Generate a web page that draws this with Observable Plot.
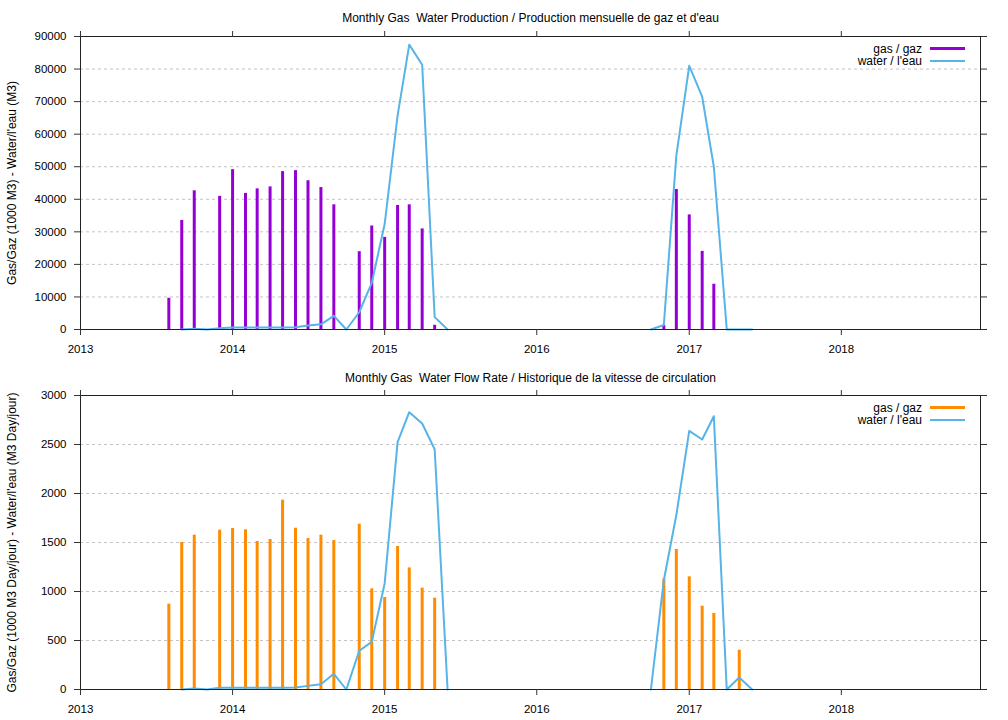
<!DOCTYPE html>
<html>
<head>
<meta charset="utf-8">
<script src="https://cdn.jsdelivr.net/npm/d3@7"></script>
<script src="https://cdn.jsdelivr.net/npm/@observablehq/plot@0.6"></script>
<style>
  body { margin: 0; background: #fff; }
  #chart svg { display: block; }
  text { white-space: pre; }
</style>
</head>
<body>
<div id="chart"></div>
<script>
// ---- Data ----
const gasMonths = ["2013-08","2013-09","2013-10","2013-12",
  "2014-01","2014-02","2014-03","2014-04","2014-05","2014-06","2014-07","2014-08","2014-09","2014-11","2014-12",
  "2015-01","2015-02","2015-03","2015-04","2015-05",
  "2016-11","2016-12","2017-01","2017-02","2017-03","2017-05"];
// monthly gas production (1000 m3)
const gasProduction = [9600,33500,42600,40900,
  49100,41800,43200,43800,48500,48800,45700,43600,38300,23900,31800,
  28300,38100,38300,30900,1300,
  1200,43000,35200,24000,13900,null];
// monthly gas flow rate (1000 m3/day)
const gasRate = [871,1500,1575,1626,
  1643,1629,1510,1531,1932,1646,1541,1575,1520,1687,1027,
  939,1459,1241,1034,932,
  1126,1429,1150,850,776,401];

const waterMonths = ["2013-09","2013-10","2013-11","2013-12",
  "2014-01","2014-02","2014-03","2014-04","2014-05","2014-06","2014-07","2014-08","2014-09","2014-10","2014-11","2014-12",
  "2015-01","2015-02","2015-03","2015-04","2015-05","2015-06",
  "2016-10","2016-11","2016-12","2017-01","2017-02","2017-03","2017-04","2017-05","2017-06"];
// monthly water production (m3)
const waterProduction = [0,200,0,400,
  600,600,600,600,650,700,1200,1600,4200,0,5300,14300,
  32400,65700,87500,81300,3800,0,
  0,1400,53400,81000,71500,50000,0,0,0];
// monthly water flow rate (m3/day)
const waterRate = [0,10,0,17,
  17,17,17,17,18,20,37,54,160,0,395,486,
  1082,2524,2830,2714,2452,0,
  0,1115,1780,2639,2551,2789,0,122,0];

const yearTicks = ["2013","2014","2015","2016","2017","2018"];
const prodTicks = [0,10000,20000,30000,40000,50000,60000,70000,80000,90000];
const rateTicks = [0,500,1000,1500,2000,2500,3000];

const titles = [
  "Monthly Gas  Water Production / Production mensuelle de gaz et d'eau",
  "Monthly Gas  Water Flow Rate / Historique de la vitesse de circulation"
];
const yLabels = [
  "Gas/Gaz (1000 M3) - Water/l'eau (M3)",
  "Gas/Gaz (1000 M3 Day/jour) - Water/l'eau (M3 Day/jour)"
];
const legendLabels = ["gas / gaz", "water / l'eau"];

// ---- Build ----
const parseMonth = d3.utcParse("%Y-%m");
const parseYear = d3.utcParse("%Y");
const WATER = "#56B4E9";
const FONT = "'Liberation Sans', Arial, Helvetica, sans-serif";

function legendMark(gasColor) {
  return (index, scales, values, dimensions) => {
    const {width, marginRight, marginTop} = dimensions;
    const right = width - marginRight;
    const g = d3.create("svg:g")
      .attr("font-family", FONT).attr("font-size", 12);
    const rows = [
      {label: legendLabels[0], color: gasColor, w: 3},
      {label: legendLabels[1], color: WATER, w: 2}
    ];
    rows.forEach((r, i) => {
      const y = marginTop + 12.6 + i * 12.4;
      g.append("text").attr("x", right - 58).attr("y", y).attr("dy", "0.35em")
        .attr("text-anchor", "end").attr("fill", "#000").text(r.label);
      g.append("line").attr("x1", right - 50).attr("x2", right - 15)
        .attr("y1", y).attr("y2", y).attr("stroke", r.color).attr("stroke-width", r.w);
    });
    return g.node();
  };
}

function build({gasValues, waterValues, ticks, gasColor, title, yLabel, marginTop, titleDy}) {
  const gas = gasMonths.map((m, i) => ({date: parseMonth(m), v: gasValues[i]}))
    .filter(d => d.v != null);
  let seg = 0;
  const water = waterMonths.map((m, i) => {
    const date = parseMonth(m);
    if (i > 0) {
      const prev = parseMonth(waterMonths[i - 1]);
      if (d3.utcMonth.count(prev, date) > 1) seg++;
    }
    return {date, v: waterValues[i], seg};
  });
  const years = yearTicks.map(parseYear);
  const yMax = ticks[ticks.length - 1];
  return Plot.plot({
    width: 1008,
    height: 360,
    marginLeft: 80,
    marginRight: 28,
    marginTop,
    marginBottom: 31,
    style: {fontFamily: FONT, fontSize: "11.5px", color: "#000", background: "#fff", overflow: "visible"},
    x: {type: "utc", domain: [new Date(Date.UTC(2013, 0, 1)), new Date(Date.UTC(2018, 11, 1))]},
    y: {domain: [0, yMax]},
    marks: [
      Plot.gridY(ticks, {stroke: "#c4c4c4", strokeOpacity: 1, strokeDasharray: "3,3"}),
      Plot.ruleX(gas, {x: "date", y1: 0, y2: "v", stroke: gasColor, strokeWidth: 3}),
      Plot.line(water, {x: "date", y: "v", z: "seg", stroke: WATER, strokeWidth: 2}),
      Plot.frame({stroke: "#222"}),
      Plot.axisY(ticks, {anchor: "left", tickSize: 6, tickPadding: 8, tickFormat: d3.format("d"), label: null, stroke: "#333"}),
      Plot.axisY(ticks, {anchor: "right", tickSize: 6, tickFormat: () => "", label: null, stroke: "#333"}),
      Plot.axisX(years, {anchor: "bottom", tickSize: 6, tickPadding: 9, tickFormat: d3.utcFormat("%Y"), label: null, stroke: "#333"}),
      Plot.axisX(years, {anchor: "top", tickSize: 6, tickFormat: () => "", label: null, stroke: "#333"}),
      Plot.text([title], {frameAnchor: "top", lineAnchor: "middle", dy: titleDy, fontSize: 12, fill: "#000"}),
      Plot.text([yLabel], {frameAnchor: "left", textAnchor: "middle", lineAnchor: "middle", dx: -68, rotate: -90, fontSize: 12, fill: "#000"}),
      legendMark(gasColor)
    ]
  });
}

const chart = document.getElementById("chart");
chart.append(build({
  gasValues: gasProduction, waterValues: waterProduction, ticks: prodTicks,
  gasColor: "#9400D3", title: titles[0], yLabel: yLabels[0], marginTop: 36, titleDy: -18
}));
chart.append(build({
  gasValues: gasRate, waterValues: waterRate, ticks: rateTicks,
  gasColor: "#FF8C00", title: titles[1], yLabel: yLabels[1], marginTop: 35, titleDy: -17
}));
</script>
</body>
</html>
